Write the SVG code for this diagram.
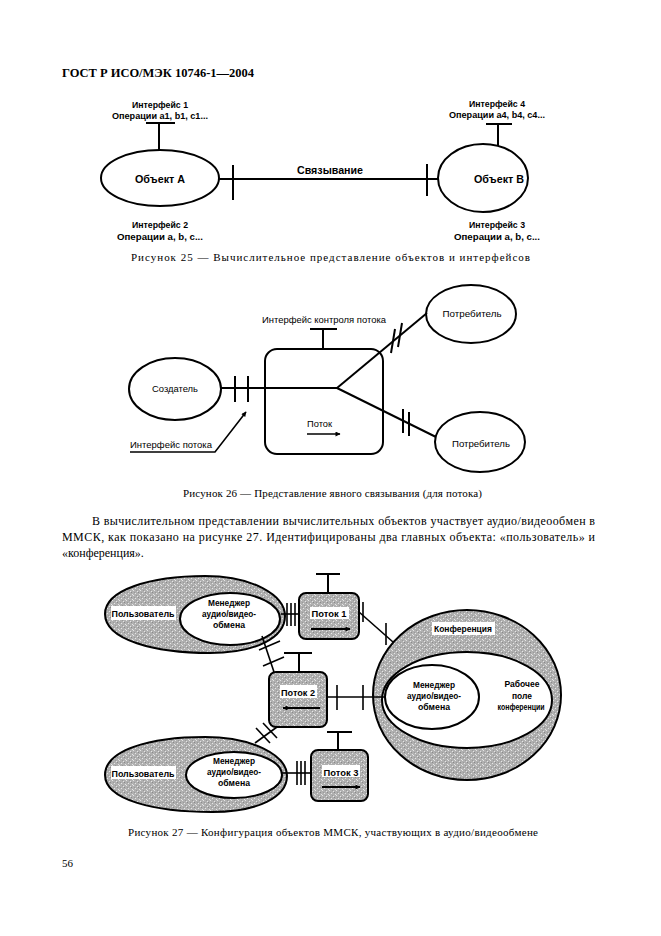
<svg xmlns="http://www.w3.org/2000/svg" width="661" height="936" viewBox="0 0 661 936">
<style>
.ser{font-family:"Liberation Serif","Times New Roman",serif;fill:#000}
.cap{font-size:11px}
.lb{font-family:"Liberation Sans",Arial,sans-serif;font-weight:bold;font-size:9px;fill:#000}
.ln{font-family:"Liberation Sans",Arial,sans-serif;font-size:9px;fill:#000}
.big{font-size:11.5px}
.s{stroke:#000;fill:none;stroke-width:2}
.t{stroke:#000;fill:none;stroke-width:1.6}
.w{fill:#fff;stroke:#000;stroke-width:2}
.g{fill:url(#dots);stroke:#000;stroke-width:2}
.wb{fill:#fff;stroke:none}
</style>
<defs>
<pattern id="dots" width="7" height="5" patternUnits="userSpaceOnUse">
<rect width="7" height="5" fill="#b0b0b0"/>
<rect x="0" y="0" width="1" height="1" fill="#e6e6e6"/>
<rect x="4" y="1" width="1" height="1" fill="#e6e6e6"/>
<rect x="2" y="3" width="1" height="1" fill="#e6e6e6"/>
<rect x="6" y="4" width="1" height="1" fill="#e6e6e6"/>
<rect x="5" y="2" width="1" height="1" fill="#8a8a8a"/>
<rect x="1" y="2" width="1" height="1" fill="#999"/>
<rect x="3" y="0" width="1" height="1" fill="#999"/>
</pattern>
<marker id="ah" viewBox="0 0 10 10" refX="9" refY="5" markerWidth="7" markerHeight="5" orient="auto" markerUnits="userSpaceOnUse">
<path d="M0,0 L10,5 L0,10 Z" fill="#000"/>
</marker>
</defs>
<rect width="661" height="936" fill="#fff"/>

<text class="ser" x="62" y="77" font-size="12" font-weight="bold" textLength="192" lengthAdjust="spacingAndGlyphs">ГОСТ Р ИСО/МЭК 10746-1—2004</text>

<!-- Figure 25 -->
<g id="objA">
<ellipse class="s" cx="160" cy="178" rx="59" ry="28"/>
<text class="lb big" x="160" y="183" text-anchor="middle" textLength="50" lengthAdjust="spacingAndGlyphs">Объект А</text>
</g>
<g id="iface1">
<line class="s" x1="159" y1="123" x2="159" y2="150"/>
<line class="s" x1="146" y1="123" x2="175" y2="123"/>
<text class="lb" x="160" y="108" text-anchor="middle" textLength="56" lengthAdjust="spacingAndGlyphs">Интерфейс 1</text>
<text class="lb" x="160" y="119" text-anchor="middle" textLength="96" lengthAdjust="spacingAndGlyphs">Операции a1, b1, c1...</text>
</g>
<g id="iface2">
<text class="lb" x="160" y="228" text-anchor="middle" textLength="56" lengthAdjust="spacingAndGlyphs">Интерфейс 2</text>
<text class="lb" x="160" y="240" text-anchor="middle" textLength="86" lengthAdjust="spacingAndGlyphs">Операции a, b, c...</text>
</g>
<g id="objB">
<ellipse class="s" cx="483" cy="178" rx="45" ry="34"/>
<text class="lb big" x="499" y="183" text-anchor="middle" textLength="50" lengthAdjust="spacingAndGlyphs">Объект В</text>
</g>
<g id="iface4">
<line class="s" x1="498" y1="124" x2="498" y2="146"/>
<line class="s" x1="486" y1="124" x2="512" y2="124"/>
<text class="lb" x="497" y="107" text-anchor="middle" textLength="56" lengthAdjust="spacingAndGlyphs">Интерфейс 4</text>
<text class="lb" x="497" y="118" text-anchor="middle" textLength="96" lengthAdjust="spacingAndGlyphs">Операции a4, b4, c4...</text>
</g>
<g id="iface3">
<text class="lb" x="497" y="228" text-anchor="middle" textLength="56" lengthAdjust="spacingAndGlyphs">Интерфейс 3</text>
<text class="lb" x="497" y="240" text-anchor="middle" textLength="86" lengthAdjust="spacingAndGlyphs">Операции a, b, c...</text>
</g>
<g id="binding25">
<line class="s" x1="219" y1="179" x2="438" y2="179"/>
<line class="s" x1="233" y1="165" x2="233" y2="200"/>
<line class="s" x1="427" y1="164" x2="427" y2="196"/>
<text class="lb big" x="297" y="174" textLength="66" lengthAdjust="spacingAndGlyphs">Связывание</text>
</g>
<text class="ser cap" x="131" y="261" textLength="399" lengthAdjust="spacing">Рисунок 25 — Вычислительное представление объектов и интерфейсов</text>

<!-- Figure 26 -->
<g id="creator">
<ellipse class="s" cx="175" cy="389" rx="46" ry="31"/>
<text class="ln" x="175" y="392" text-anchor="middle" textLength="46" lengthAdjust="spacingAndGlyphs">Создатель</text>
</g>
<g id="flowbox">
<rect class="s" x="265" y="349" width="118" height="105" rx="12"/>
<text class="ln" x="307" y="427" textLength="25" lengthAdjust="spacingAndGlyphs">Поток</text>
<line class="t" x1="307" y1="434" x2="340" y2="434" marker-end="url(#ah)"/>
</g>
<g id="ctrlIface">
<line class="s" x1="323" y1="329" x2="323" y2="349"/>
<line class="s" x1="310" y1="329" x2="337" y2="329"/>
<text class="ln" x="324" y="323" text-anchor="middle" textLength="124" lengthAdjust="spacingAndGlyphs">Интерфейс контроля потока</text>
</g>
<g id="consumer1">
<ellipse class="s" cx="471" cy="314" rx="45" ry="29"/>
<text class="ln" x="472" y="317" text-anchor="middle" textLength="59" lengthAdjust="spacingAndGlyphs">Потребитель</text>
</g>
<g id="consumer2">
<ellipse class="s" cx="480" cy="442" rx="45" ry="30"/>
<text class="ln" x="481" y="447" text-anchor="middle" textLength="58" lengthAdjust="spacingAndGlyphs">Потребитель</text>
</g>
<g id="connectors26">
<line class="s" x1="221" y1="388" x2="337" y2="388"/>
<line class="s" x1="235" y1="376" x2="235" y2="402"/>
<line class="s" x1="248" y1="376" x2="248" y2="402"/>
<line class="s" x1="337" y1="388" x2="427" y2="313"/>
<line class="s" x1="391" y1="353" x2="395" y2="329"/>
<line class="s" x1="398" y1="347" x2="402" y2="323"/>
<line class="s" x1="337" y1="388" x2="436" y2="437"/>
<line class="s" x1="403" y1="409" x2="403" y2="433"/>
<line class="s" x1="409" y1="412" x2="409" y2="436"/>
<polyline class="t" points="130,452 215,452 246,412" marker-end="url(#ah)"/>
<text class="ln" x="130" y="448" textLength="82" lengthAdjust="spacingAndGlyphs">Интерфейс потока</text>
</g>
<text class="ser cap" x="183" y="497" textLength="299" lengthAdjust="spacing">Рисунок 26 — Представление явного связывания (для потока)</text>

<!-- Paragraph -->
<text class="ser" font-size="12" x="92" y="525" textLength="503" lengthAdjust="spacing">В вычислительном представлении вычислительных объектов участвует аудио/видеообмен в</text>
<text class="ser" font-size="12" x="62" y="541" textLength="533" lengthAdjust="spacing">ММСК, как показано на рисунке 27. Идентифицированы два главных объекта: «пользователь» и</text>
<text class="ser" font-size="12" x="62" y="557">«конференция».</text>

<!-- Figure 27 -->
<g id="user1">
<path class="g" d="M105,614 C105,590 150,576 205,576 C252,576 285,595 285,616 C285,637 257,653 210,653 C155,653 105,640 105,614 Z"/>
<rect class="wb" x="111" y="606" width="65" height="14"/>
<text class="lb" x="143" y="617" text-anchor="middle" textLength="63" lengthAdjust="spacingAndGlyphs">Пользователь</text>
<ellipse class="w" cx="230" cy="619" rx="50" ry="26"/>
<text class="lb" x="229" y="606" text-anchor="middle" textLength="42" lengthAdjust="spacingAndGlyphs">Менеджер</text>
<text class="lb" x="229" y="617" text-anchor="middle" textLength="54" lengthAdjust="spacingAndGlyphs">аудио/видео-</text>
<text class="lb" x="229" y="628" text-anchor="middle" textLength="32" lengthAdjust="spacingAndGlyphs">обмена</text>
</g>
<g id="user2">
<path class="g" d="M105,775 C105,750 150,737 205,737 C252,737 287,755 287,776 C287,797 258,812 212,812 C155,812 105,800 105,775 Z"/>
<rect class="wb" x="111" y="766" width="65" height="13"/>
<text class="lb" x="143" y="777" text-anchor="middle" textLength="63" lengthAdjust="spacingAndGlyphs">Пользователь</text>
<ellipse class="w" cx="234" cy="775" rx="48" ry="23"/>
<text class="lb" x="234" y="764" text-anchor="middle" textLength="42" lengthAdjust="spacingAndGlyphs">Менеджер</text>
<text class="lb" x="234" y="775" text-anchor="middle" textLength="54" lengthAdjust="spacingAndGlyphs">аудио/видео-</text>
<text class="lb" x="234" y="786" text-anchor="middle" textLength="32" lengthAdjust="spacingAndGlyphs">обмена</text>
</g>
<g id="conference">
<ellipse class="g" cx="467" cy="695" rx="94" ry="85"/>
<ellipse class="w" cx="467" cy="700" rx="85" ry="48"/>
<ellipse class="w" cx="432" cy="697" rx="47" ry="32"/>
<rect class="wb" x="432" y="622" width="63" height="13"/>
<text class="lb" x="463" y="632" text-anchor="middle" textLength="58" lengthAdjust="spacingAndGlyphs">Конференция</text>
<text class="lb" x="434" y="688" text-anchor="middle" textLength="42" lengthAdjust="spacingAndGlyphs">Менеджер</text>
<text class="lb" x="434" y="699" text-anchor="middle" textLength="54" lengthAdjust="spacingAndGlyphs">аудио/видео-</text>
<text class="lb" x="434" y="710" text-anchor="middle" textLength="32" lengthAdjust="spacingAndGlyphs">обмена</text>
<text class="lb" x="522" y="687" text-anchor="middle" textLength="35" lengthAdjust="spacingAndGlyphs">Рабочее</text>
<text class="lb" x="522" y="699" text-anchor="middle" textLength="20" lengthAdjust="spacingAndGlyphs">поле</text>
<text class="lb" x="521" y="710" text-anchor="middle" textLength="47" lengthAdjust="spacingAndGlyphs">конференции</text>
</g>
<g id="flow1">
<rect class="g" x="299" y="593" width="60" height="46" rx="7"/>
<rect class="wb" x="310" y="607" width="39" height="12"/>
<text class="lb" x="329" y="617" text-anchor="middle" textLength="35" lengthAdjust="spacingAndGlyphs">Поток 1</text>
<line class="s" x1="311" y1="629" x2="350" y2="629" marker-end="url(#ah)"/>
<line class="s" x1="328" y1="593" x2="328" y2="574"/>
<line class="s" x1="316" y1="574" x2="340" y2="574"/>
</g>
<g id="flow2">
<rect class="g" x="269" y="672" width="58" height="55" rx="7"/>
<rect class="wb" x="280" y="685" width="37" height="13"/>
<text class="lb" x="298" y="696" text-anchor="middle" textLength="34" lengthAdjust="spacingAndGlyphs">Поток 2</text>
<line class="s" x1="320" y1="708" x2="283" y2="708" marker-end="url(#ah)"/>
<line class="s" x1="299" y1="672" x2="299" y2="653"/>
<line class="s" x1="284" y1="653" x2="312" y2="653"/>
</g>
<g id="flow3">
<rect class="g" x="311" y="750" width="57" height="51" rx="7"/>
<rect class="wb" x="322" y="765" width="38" height="12"/>
<text class="lb" x="341" y="776" text-anchor="middle" textLength="35" lengthAdjust="spacingAndGlyphs">Поток 3</text>
<line class="s" x1="322" y1="787" x2="360" y2="787" marker-end="url(#ah)"/>
<line class="s" x1="338" y1="750" x2="338" y2="732"/>
<line class="s" x1="327" y1="732" x2="352" y2="732"/>
</g>
<g id="connectors27">
<line class="t" x1="281" y1="614" x2="299" y2="614"/>
<line class="t" x1="287" y1="603" x2="287" y2="626"/>
<line class="t" x1="291" y1="603" x2="291" y2="626"/>
<line class="t" x1="295" y1="603" x2="295" y2="626"/>
<line class="t" x1="359" y1="612" x2="393" y2="642"/>
<line class="t" x1="363" y1="602" x2="363" y2="622"/>
<line class="t" x1="386" y1="623" x2="386" y2="645"/>
<line class="t" x1="274" y1="672" x2="262" y2="636"/>
<line class="t" x1="259" y1="650" x2="280" y2="641"/>
<line class="t" x1="263" y1="666" x2="284" y2="657"/>
<line class="t" x1="327" y1="697" x2="385" y2="697"/>
<line class="t" x1="337" y1="685" x2="337" y2="710"/>
<line class="t" x1="363" y1="685" x2="363" y2="710"/>
<line class="t" x1="277" y1="727" x2="255" y2="743"/>
<line class="t" x1="256" y1="728" x2="270" y2="743"/>
<line class="t" x1="263" y1="723" x2="277" y2="738"/>
<line class="t" x1="282" y1="773" x2="311" y2="773"/>
<line class="t" x1="297" y1="761" x2="297" y2="785"/>
<line class="t" x1="301" y1="761" x2="301" y2="785"/>
<line class="t" x1="305" y1="761" x2="305" y2="785"/>
</g>
<text class="ser cap" x="128" y="836" textLength="410" lengthAdjust="spacing">Рисунок 27 — Конфигурация объектов ММСК, участвующих в аудио/видеообмене</text>
<text class="ser" font-size="11" x="62" y="867">56</text>
</svg>
